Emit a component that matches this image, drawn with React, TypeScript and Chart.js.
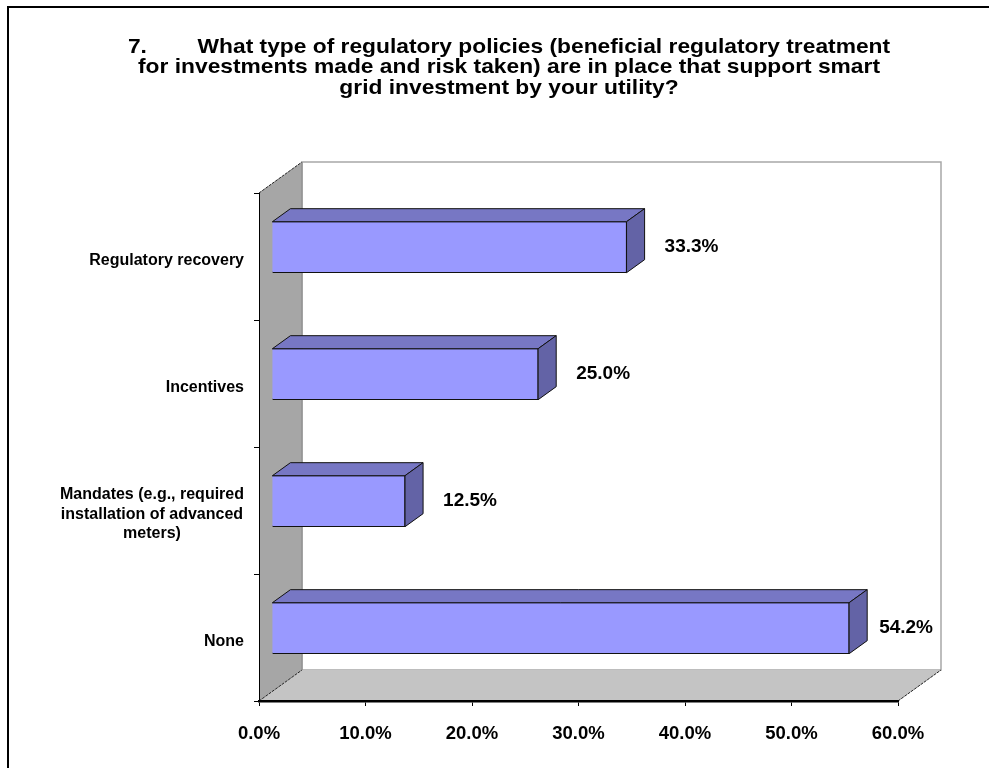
import React, { useEffect, useRef } from 'react';
import { Chart, registerables } from 'chart.js';

Chart.register(...registerables);

const titleLines = [
  '7.        What type of regulatory policies (beneficial regulatory treatment',
  'for investments made and risk taken) are in place that support smart',
  'grid investment by your utility?',
];
const categories: string[][] = [
  ['Regulatory recovery'],
  ['Incentives'],
  ['Mandates (e.g., required', 'installation of advanced', 'meters)'],
  ['None'],
];
const values = [33.3, 25.0, 12.5, 54.2];
const xMin = 0;
const xMax = 60;
const xStep = 10;

const FONT = "Arial, 'Liberation Sans', Helvetica, sans-serif";
const DEPTH_X = 43;
const DEPTH_Y = -31;
const BAR_FRONT = 0.3;
const BAR_BACK = 0.72;

const threeD = {
  id: 'threeD',
  beforeDraw(chart: any) {
    const { ctx, chartArea: a, scales } = chart;
    const xs = scales.x;
    const x0 = xs.getPixelForValue(xMin);
    const x1 = xs.getPixelForValue(xMax);
    const t = a.top;
    const b = a.bottom;
    ctx.save();
    // outer frame
    ctx.strokeStyle = '#000';
    ctx.lineWidth = 2;
    ctx.strokeRect(8, 7, 1400, 1400);
    // title (slightly widened glyphs, as in the original rendering)
    ctx.save();
    ctx.fillStyle = '#000';
    ctx.font = `bold 21px ${FONT}`;
    ctx.textAlign = 'center';
    ctx.textBaseline = 'middle';
    ctx.translate(509, 0);
    ctx.scale(1.085, 1);
    titleLines.forEach((l, i) => ctx.fillText(l, 0, 47 + i * 20.5));
    ctx.restore();

    // back wall
    ctx.beginPath();
    ctx.moveTo(x0 + DEPTH_X, t + DEPTH_Y);
    ctx.lineTo(x1 + DEPTH_X, t + DEPTH_Y);
    ctx.lineTo(x1 + DEPTH_X, b + DEPTH_Y);
    ctx.lineTo(x0 + DEPTH_X, b + DEPTH_Y);
    ctx.closePath();
    ctx.fillStyle = '#ffffff';
    ctx.fill();
    ctx.strokeStyle = '#a8a8a8';
    ctx.lineWidth = 1.5;
    ctx.stroke();

    // left wall
    ctx.beginPath();
    ctx.moveTo(x0, t);
    ctx.lineTo(x0 + DEPTH_X, t + DEPTH_Y);
    ctx.lineTo(x0 + DEPTH_X, b + DEPTH_Y);
    ctx.lineTo(x0, b);
    ctx.closePath();
    ctx.fillStyle = '#a6a6a6';
    ctx.fill();

    // floor
    ctx.beginPath();
    ctx.moveTo(x0, b);
    ctx.lineTo(x0 + DEPTH_X, b + DEPTH_Y);
    ctx.lineTo(x1 + DEPTH_X, b + DEPTH_Y);
    ctx.lineTo(x1, b);
    ctx.closePath();
    ctx.fillStyle = '#c4c4c4';
    ctx.fill();

    // depth edges
    ctx.strokeStyle = '#222';
    ctx.lineWidth = 1;
    ctx.setLineDash([3, 1]);
    ctx.beginPath();
    ctx.moveTo(x0, t);
    ctx.lineTo(x0 + DEPTH_X, t + DEPTH_Y);
    ctx.moveTo(x0, b);
    ctx.lineTo(x0 + DEPTH_X, b + DEPTH_Y);
    ctx.moveTo(x1, b);
    ctx.lineTo(x1 + DEPTH_X, b + DEPTH_Y);
    ctx.stroke();
    ctx.setLineDash([]);
    ctx.strokeStyle = '#888';
    ctx.beginPath();
    ctx.moveTo(x0 + DEPTH_X, t + DEPTH_Y);
    ctx.lineTo(x0 + DEPTH_X, b + DEPTH_Y);
    ctx.stroke();
    ctx.restore();
  },
  beforeDatasetDraw(chart: any) {
    chart.ctx.save();
    chart.ctx.translate(DEPTH_X * BAR_FRONT, DEPTH_Y * BAR_FRONT);
  },
  afterDatasetDraw(chart: any) {
    chart.ctx.restore();
  },
  afterDatasetsDraw(chart: any) {
    const { ctx, scales } = chart;
    const xs = scales.x;
    const x1 = xs.getPixelForValue(xMax);
    const ox = DEPTH_X * BAR_FRONT;
    const oy = DEPTH_Y * BAR_FRONT;
    const dx = DEPTH_X * (BAR_BACK - BAR_FRONT);
    const dy = DEPTH_Y * (BAR_BACK - BAR_FRONT);
    const meta = chart.getDatasetMeta(0);
    ctx.save();
    meta.data.forEach((bar: any, i: number) => {
      const left = Math.min(bar.base, bar.x) + ox;
      const right = Math.max(bar.base, bar.x) + ox;
      const top = bar.y - bar.height / 2 + oy;
      const bot = bar.y + bar.height / 2 + oy;
      ctx.lineWidth = 1;
      ctx.strokeStyle = '#111';
      // top face
      ctx.beginPath();
      ctx.moveTo(left, top);
      ctx.lineTo(right, top);
      ctx.lineTo(right + dx, top + dy);
      ctx.lineTo(left + dx, top + dy);
      ctx.closePath();
      ctx.fillStyle = '#7777c4';
      ctx.fill();
      ctx.stroke();
      // side face
      ctx.beginPath();
      ctx.moveTo(right, top);
      ctx.lineTo(right + dx, top + dy);
      ctx.lineTo(right + dx, bot + dy);
      ctx.lineTo(right, bot);
      ctx.closePath();
      ctx.fillStyle = '#6363a6';
      ctx.fill();
      ctx.stroke();

      // value label
      ctx.font = `bold 19px ${FONT}`;
      ctx.fillStyle = '#000';
      ctx.textAlign = 'left';
      ctx.textBaseline = 'middle';
      const txt = `${values[i].toFixed(1)}%`;
      const w = ctx.measureText(txt).width;
      let lx = right + dx + 20;
      const limit = x1 + DEPTH_X - 8;
      if (lx + w > limit) lx = limit - w;
      ctx.fillText(txt, lx, (top + bot) / 2);
    });
    ctx.restore();
  },
  afterDraw(chart: any) {
    const { ctx, scales } = chart;
    const ys = scales.y;
    const x0 = scales.x.getPixelForValue(xMin);
    ctx.save();
    ctx.font = `bold 16px ${FONT}`;
    ctx.fillStyle = '#000';
    ctx.textBaseline = 'middle';
    const lh = 19.5;
    categories.forEach((lines, i) => {
      const yc = ys.getPixelForValue(i) + 4;
      const right = x0 - 15;
      if (lines.length === 1) {
        ctx.textAlign = 'right';
        ctx.fillText(lines[0], right, yc);
      } else {
        const maxW = Math.max(...lines.map((l) => ctx.measureText(l).width));
        ctx.textAlign = 'center';
        const cx = right - maxW / 2;
        lines.forEach((l, j) => {
          ctx.fillText(l, cx, yc + (j - (lines.length - 1) / 2) * lh);
        });
      }
    });
    ctx.restore();
  },
};

export default function App() {
  const ref = useRef<HTMLCanvasElement | null>(null);
  useEffect(() => {
    if (!ref.current) return;
    const chart = new Chart(ref.current, {
      type: 'bar',
      data: {
        labels: categories.map((c) => c.join(' ')),
        datasets: [
          {
            data: values,
            backgroundColor: '#9999ff',
            borderColor: '#111',
            borderWidth: 1,
            barThickness: 51,
          },
        ],
      },
      options: {
        indexAxis: 'y',
        animation: false,
        responsive: false,
        devicePixelRatio: 1,
        layout: { padding: { top: 193, right: 91, left: 0, bottom: 0 } },
        plugins: {
          legend: { display: false },
          tooltip: { enabled: false },
          title: { display: false },
        },
        scales: {
          x: {
            min: xMin,
            max: xMax,
            ticks: {
              stepSize: xStep,
              callback: (v: any) => `${Number(v).toFixed(1)}%`,
              font: { family: FONT, size: 18.5, weight: 'bold' },
              color: '#000',
              padding: 17,
              maxRotation: 0,
            },
            grid: { drawOnChartArea: false, drawTicks: true, tickLength: 5, color: '#000' },
            border: { color: '#000', width: 2.5 },
            afterFit: (s: any) => {
              s.height = 67;
            },
          },
          y: {
            ticks: { display: false },
            grid: { drawOnChartArea: false, drawTicks: true, tickLength: 5, color: '#000', offset: true },
            border: { color: '#000', width: 1 },
            afterFit: (s: any) => {
              s.width = 259;
            },
          },
        },
      } as any,
      plugins: [threeD],
    });
    return () => chart.destroy();
  }, []);
  return (
    <div style={{ position: 'fixed', left: 0, top: 0, width: 989, height: 768, background: '#fff' }}>
      <canvas ref={ref} width={989} height={768} style={{ display: 'block' }} />
    </div>
  );
}
